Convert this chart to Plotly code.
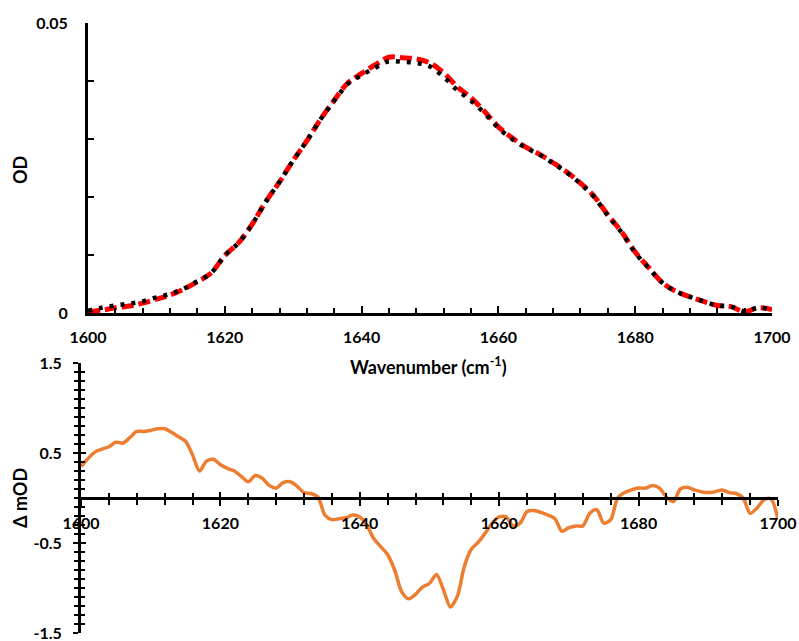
import plotly.graph_objects as go

# ---- Top panel data (OD) ----
wn_top = [1600, 1602, 1604, 1606, 1608, 1610, 1612, 1614, 1616, 1618, 1620, 1622, 1624,
          1626, 1628, 1630, 1632, 1634, 1636, 1638, 1640, 1642, 1644, 1646, 1648, 1650,
          1652, 1654, 1656, 1658, 1660, 1662, 1664, 1666, 1668, 1670, 1672, 1674, 1676,
          1678, 1680, 1682, 1684, 1686, 1688, 1690, 1692, 1694, 1696, 1698, 1700]
od_red = [0.0002, 0.0005, 0.0009, 0.0012, 0.0017, 0.0024, 0.0031, 0.0041, 0.0054, 0.0069,
          0.0099, 0.0121, 0.0153, 0.0192, 0.0226, 0.0263, 0.0297, 0.0334, 0.0367, 0.0397,
          0.0413, 0.0428, 0.0441, 0.0440, 0.0438, 0.0431, 0.0414, 0.0390, 0.0371, 0.0347,
          0.0321, 0.0302, 0.0286, 0.0274, 0.0259, 0.0243, 0.0224, 0.0201, 0.0169, 0.0140,
          0.0105, 0.0078, 0.0052, 0.0037, 0.0028, 0.0020, 0.0013, 0.0011, 0.0002, 0.0009,
          0.0006]
od_black = [0.0004, 0.0009, 0.0013, 0.0016, 0.0020, 0.0027, 0.0033, 0.0042, 0.0055, 0.0069,
            0.0099, 0.0121, 0.0153, 0.0192, 0.0226, 0.0263, 0.0297, 0.0334, 0.0366, 0.0395,
            0.0410, 0.0423, 0.0434, 0.0433, 0.0431, 0.0425, 0.0407, 0.0384, 0.0366, 0.0344,
            0.0319, 0.0300, 0.0285, 0.0273, 0.0258, 0.0242, 0.0223, 0.0200, 0.0168, 0.0139,
            0.0104, 0.0077, 0.0052, 0.0037, 0.0028, 0.0020, 0.0013, 0.0011, 0.0003, 0.0009,
            0.0005]

# ---- Bottom panel data (delta mOD) ----
wn_bot = [1600, 1602, 1604, 1605, 1606, 1607, 1608, 1609, 1610, 1611, 1612, 1613, 1614,
          1615, 1616, 1617, 1618, 1619, 1620, 1621, 1622, 1623, 1624, 1625, 1626, 1627,
          1628, 1629, 1630, 1631, 1632, 1633, 1634, 1635, 1636, 1637, 1638, 1639, 1640,
          1641, 1642, 1643, 1644, 1645, 1646, 1647, 1648, 1649, 1650, 1651, 1652, 1653,
          1654, 1655, 1656, 1657, 1658, 1659, 1660, 1661, 1662, 1663, 1664, 1665, 1666,
          1667, 1668, 1669, 1670, 1671, 1672, 1673, 1674, 1675, 1676, 1677, 1678, 1679,
          1680, 1681, 1682, 1683, 1684, 1685, 1686, 1687, 1688, 1689, 1690, 1691, 1692,
          1693, 1694, 1695, 1696, 1697, 1698, 1699, 1700]
dmod = [0.35, 0.51, 0.57, 0.62, 0.61, 0.67, 0.74, 0.74, 0.75, 0.77, 0.77, 0.73, 0.68,
        0.63, 0.48, 0.30, 0.41, 0.43, 0.37, 0.33, 0.30, 0.24, 0.18, 0.25, 0.22, 0.14,
        0.11, 0.17, 0.18, 0.13, 0.06, 0.05, 0.01, -0.19, -0.24, -0.23, -0.22, -0.19, -0.21,
        -0.30, -0.45, -0.54, -0.63, -0.80, -1.04, -1.12, -1.07, -0.99, -0.95, -0.85, -1.02, -1.21,
        -1.09, -0.76, -0.57, -0.49, -0.39, -0.28, -0.21, -0.21, -0.31, -0.28, -0.15, -0.14, -0.16,
        -0.19, -0.23, -0.37, -0.33, -0.31, -0.31, -0.17, -0.13, -0.28, -0.24, 0.00, 0.06, 0.09,
        0.11, 0.11, 0.14, 0.11, 0.01, -0.04, 0.10, 0.12, 0.09, 0.07, 0.06, 0.07, 0.09,
        0.06, 0.05, 0.00, -0.17, -0.11, -0.02, -0.01, -0.24]

bot_y_ticks = [-1.5, -0.5, 0.5, 1.5]
bot_y_labels = ["-1.5", "-0.5", "0.5", "1.5"]

W, H = 799, 641
FONT = "Lato"
tickfont = dict(family=FONT, size=16, color="black", weight="bold")
titlefont = dict(family=FONT, size=18, color="black", weight="bold")

# domains in paper coords
top_x_dom = [88 / W, 772 / W]
top_y_dom = [1 - 313 / H, 1 - 23 / H]
bot_x_dom = [81 / W, 778 / W]
bot_y_dom = [1 - 633 / H, 1 - 363 / H]
zero_pos = (bot_y_dom[0] + bot_y_dom[1]) / 2

fig = go.Figure()

fig.add_trace(go.Scatter(x=wn_top, y=od_red, mode="lines", xaxis="x", yaxis="y",
                         line=dict(color="#FF0000", width=5, dash="12px,5px", shape="spline"),
                         showlegend=False))
fig.add_trace(go.Scatter(x=wn_top, y=od_black, mode="lines", xaxis="x", yaxis="y",
                         line=dict(color="black", width=4.5, dash="4px,7px", shape="spline"),
                         showlegend=False))
fig.add_trace(go.Scatter(x=wn_bot, y=dmod, mode="lines", xaxis="x2", yaxis="y2",
                         line=dict(color="#ED7D31", width=3.5, shape="spline", smoothing=0.8),
                         showlegend=False))
# invisible trace so overlay tick axes are drawn
fig.add_trace(go.Scatter(x=[None], y=[None], xaxis="x3", yaxis="y3", showlegend=False,
                         hoverinfo="skip"))

axline = dict(showline=True, linecolor="black", linewidth=3, showgrid=False, zeroline=False,
              automargin=False, ticklabeloverflow="allow")
tk = dict(tickwidth=2, tickcolor="black")

fig.update_layout(
    width=W, height=H,
    margin=dict(l=0, r=0, t=0, b=0, autoexpand=False),
    paper_bgcolor="white", plot_bgcolor="rgba(0,0,0,0)",
    xaxis=dict(domain=top_x_dom, anchor="y", range=[1600, 1700],
               tickmode="linear", tick0=1600, dtick=20,
               ticks="inside", ticklen=7, **tk,
               minor=dict(dtick=4, tick0=1600, ticks="inside", ticklen=5, **tk),
               tickfont=tickfont, ticklabelstandoff=8, **axline),
    yaxis=dict(domain=top_y_dom, anchor="x", range=[0, 0.05],
               tickmode="linear", tick0=0, dtick=0.05,
               ticks="inside", ticklen=6, **tk,
               minor=dict(dtick=0.01, tick0=0, ticks="inside", ticklen=6, **tk),
               tickfont=tickfont, ticklabelstandoff=14, **axline),
    xaxis2=dict(domain=bot_x_dom, anchor="free", position=zero_pos, range=[1600, 1700],
                tickmode="linear", tick0=1600, dtick=20,
                ticks="outside", ticklen=6, **tk,
                minor=dict(dtick=4, tick0=1600, ticks="outside", ticklen=5, **tk),
                tickfont=tickfont, ticklabelstandoff=4, **axline),
    xaxis3=dict(domain=bot_x_dom, anchor="free", position=zero_pos, range=[1600, 1700],
                overlaying="x2", showticklabels=False,
                tickmode="linear", tick0=1600, dtick=20,
                ticks="inside", ticklen=6, **tk,
                minor=dict(dtick=4, tick0=1600, ticks="inside", ticklen=5, **tk),
                showline=False, showgrid=False, zeroline=False, automargin=False),
    yaxis2=dict(domain=bot_y_dom, anchor="x2", range=[-1.5, 1.5],
                tickmode="array", tickvals=bot_y_ticks, ticktext=bot_y_labels,
                ticks="outside", ticklen=5, **tk,
                minor=dict(tickmode="linear", dtick=0.1, tick0=0, ticks="outside",
                           ticklen=4, **tk),
                tickfont=tickfont, ticklabelstandoff=8, **axline),
    yaxis3=dict(domain=bot_y_dom, anchor="x3", range=[-1.5, 1.5], overlaying="y2",
                showticklabels=False, tickmode="array", tickvals=bot_y_ticks,
                ticks="inside", ticklen=5, **tk,
                minor=dict(tickmode="linear", dtick=0.1, tick0=0, ticks="inside",
                           ticklen=4, **tk),
                showline=False, showgrid=False, zeroline=False, automargin=False),
    annotations=[
        dict(text="OD", x=20 / W, y=1 - 170 / H, xref="paper", yref="paper",
             xanchor="center", yanchor="middle",
             textangle=-90, showarrow=False, font=titlefont),
        dict(text="Δ mOD", x=20 / W, y=1 - 498 / H, xref="paper", yref="paper",
             xanchor="center", yanchor="middle",
             textangle=-90, showarrow=False, font=titlefont),
        dict(text="Wavenumber (cm<sup>-1</sup>)", x=428 / W, y=1 - 366 / H,
             xref="paper", yref="paper", xanchor="center", yanchor="middle",
             showarrow=False, font=titlefont),
    ],
)

fig.write_html("out.html", config={"displayModeBar": False},
               post_script="document.body.style.margin='0px';document.body.style.overflow='hidden';")
